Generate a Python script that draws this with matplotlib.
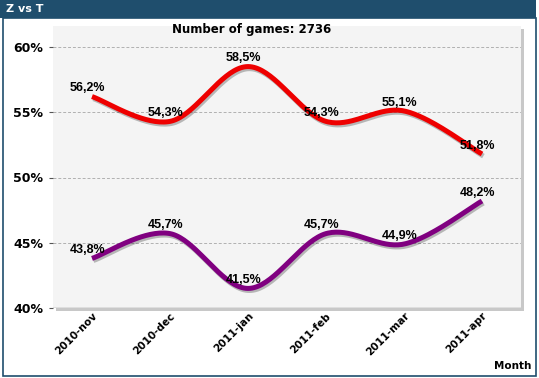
import numpy as np
import matplotlib
matplotlib.use("Agg")
import matplotlib.pyplot as plt
from matplotlib.patches import Rectangle
import matplotlib.patheffects as pe

months = ["2010-nov", "2010-dec", "2011-jan", "2011-feb", "2011-mar", "2011-apr"]
z_vals = [56.2, 54.3, 58.5, 54.3, 55.1, 51.8]
t_vals = [43.8, 45.7, 41.5, 45.7, 44.9, 48.2]
y_ticks = [40, 45, 50, 55, 60]
title_text = "Number of games: 2736"
window_title = "Z vs T"
x_label = "Month"


def catmull_rom(xs, ys, n=40):
    xs = np.asarray(xs, float)
    ys = np.asarray(ys, float)
    P = np.column_stack([xs, ys])
    P = np.vstack([P[0], P, P[-1]])
    out = []
    t = np.linspace(0, 1, n)[:, None]
    for i in range(1, len(P) - 2):
        p0, p1, p2, p3 = P[i - 1], P[i], P[i + 1], P[i + 2]
        seg = 0.5 * ((2 * p1) + (-p0 + p2) * t + (2 * p0 - 5 * p1 + 4 * p2 - p3) * t ** 2
                     + (-p0 + 3 * p1 - 3 * p2 + p3) * t ** 3)
        out.append(seg if i == 1 else seg[1:])
    out = np.vstack(out)
    return out[:, 0], out[:, 1]


W, H = 539, 378
fig = plt.figure(figsize=(W / 100, H / 100), dpi=100)
fig.patch.set_facecolor("white")

# window frame
frame_col = "#1f4e6d"
fig.add_artist(Rectangle((0, 1 - 18 / H), 536 / W, 18 / H, transform=fig.transFigure,
                         facecolor=frame_col, edgecolor="none", zorder=0))
fig.add_artist(Rectangle((2.5 / W, 2.5 / H), 533 / W, (H - 18) / H - 2.5 / H, transform=fig.transFigure,
                         facecolor="none", edgecolor=frame_col, lw=1.2, zorder=0))
fig.text(6 / W, 1 - 9.5 / H, window_title, color="white", fontsize=8, fontweight="bold",
         va="center", ha="left", family="DejaVu Sans")

# plot area
left, right, top, bottom = 53, 521, 26, 308
ax = fig.add_axes([left / W, 1 - bottom / H, (right - left) / W, (bottom - top) / H])
ax.set_facecolor("#f4f4f4")
ymax = 60 + (47 - 26) / 13.05
ax.set_ylim(40, ymax)
ax.set_xlim(-0.5, len(months) - 0.5)

# shadow
fig.add_artist(Rectangle(((left + 3) / W, 1 - (bottom + 3) / H), (right - left) / W, (bottom - top) / H,
                         transform=fig.transFigure, facecolor="#c8c8c8", edgecolor="none", zorder=0.5))
ax.set_zorder(1)

for s in ax.spines.values():
    s.set_visible(False)
ax.set_yticks(y_ticks)
ax.set_yticklabels([f"{v}%" for v in y_ticks], fontsize=9, fontweight="bold")
ax.yaxis.grid(True, color="#b0b0b0", linestyle=(0, (3, 2)), lw=0.7)
ax.tick_params(axis="y", length=3, color="#555555", pad=4)
ax.tick_params(axis="x", length=0, pad=2)
ax.set_xticks(range(len(months)))
ax.set_xticklabels(months, rotation=45, ha="right", va="top", rotation_mode="anchor",
                   fontsize=7.5, fontweight="bold")
ax.axhline(40, color="#888888", lw=1.0, zorder=2)

xs = np.arange(len(months))
for vals, col in [(z_vals, "#ee0000"), (t_vals, "#800080")]:
    cx, cy = catmull_rom(xs, vals)
    ax.plot(cx, cy, color=col, lw=3.6, solid_capstyle="butt", zorder=3,
            path_effects=[pe.SimpleLineShadow(offset=(1, -1.5), alpha=0.25), pe.Normal()])
    for x, v in zip(xs, vals):
        ax.annotate(f"{v:.1f}%".replace(".", ","), (x, v), xytext=(-3, 6),
                    textcoords="offset points", ha="center", va="center",
                    fontsize=9, fontweight="bold", family="Liberation Sans", zorder=4)

fig.text(252 / W, 1 - 30 / H, title_text, ha="center", va="center", fontsize=8.5, fontweight="bold")
fig.text(531 / W, 1 - 366 / H, x_label, ha="right", va="center", fontsize=7.5, fontweight="bold")

fig.savefig("out.png", dpi=100)
